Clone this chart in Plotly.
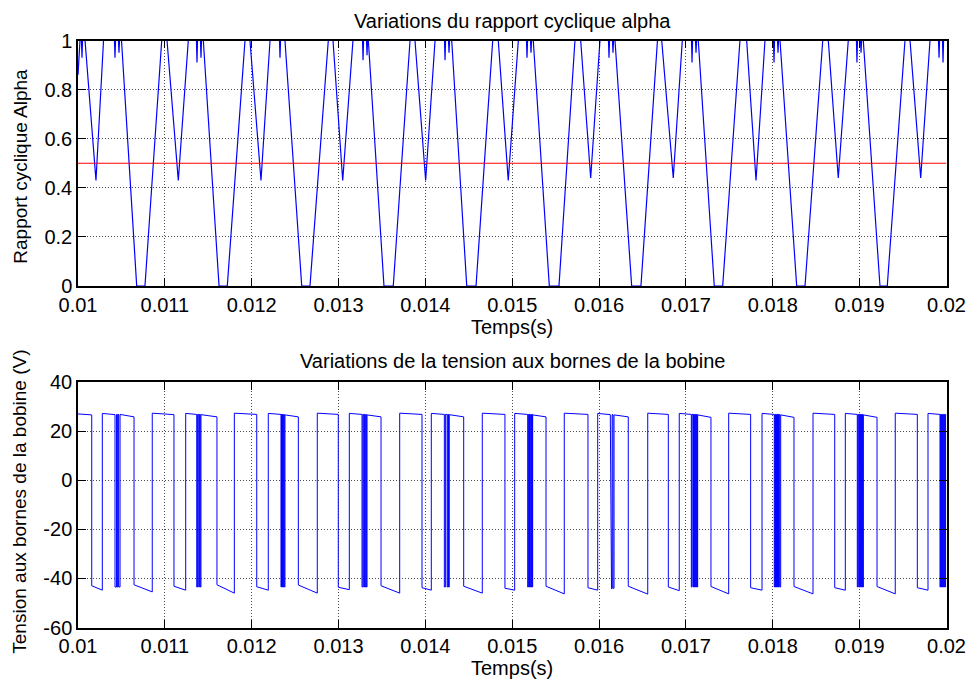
import plotly.graph_objects as go

# ---------------- data (time in ms) ----------------
alpha_t = [
    10.000, 10.023, 10.040, 10.046, 10.052, 10.081, 10.207, 10.294, 10.420, 10.426, 10.432,
    10.466, 10.472, 10.478, 10.501, 10.676, 10.771, 10.964,
    11.025, 11.155, 11.270, 11.364, 11.370, 11.376, 11.410, 11.416, 11.422, 11.443, 11.624, 11.719, 11.923,
    11.980, 12.107, 12.211, 12.320, 12.326, 12.332, 12.383, 12.576, 12.671, 12.882,
    12.936, 13.048, 13.166, 13.276, 13.282, 13.288, 13.322, 13.328, 13.334, 13.343, 13.523, 13.630, 13.823,
    13.880, 14.003, 14.111, 14.220, 14.226, 14.232, 14.266, 14.272, 14.278, 14.303, 14.476, 14.583, 14.775,
    14.839, 14.954, 15.070, 15.164, 15.170, 15.176, 15.210, 15.216, 15.222, 15.242, 15.427, 15.538, 15.722,
    15.788, 15.903, 16.010, 16.108, 16.114, 16.120, 16.154, 16.160, 16.166, 16.183, 16.375, 16.482, 16.672,
    16.721, 16.854, 16.958, 17.064, 17.070, 17.076, 17.110, 17.116, 17.122, 17.142, 17.326, 17.423, 17.622,
    17.699, 17.807, 17.910, 18.008, 18.014, 18.020, 18.054, 18.060, 18.066, 18.083, 18.275, 18.371, 18.575,
    18.639, 18.754, 18.869, 18.963, 18.969, 18.975, 19.010, 19.016, 19.022, 19.042, 19.234, 19.318, 19.522,
    19.580, 19.703, 19.810, 19.908, 19.914, 19.920, 19.954, 19.960, 19.966, 20.000,
]
alpha_v = [
    0.86, 1, 1, 0.93, 1, 1, 0.43, 1, 1, 0.93, 1,
    1, 0.95, 1, 1, 0, 0, 1,
    1, 0.43, 1, 1, 0.91, 1, 1, 0.93, 1, 1, 0, 0, 1,
    1, 0.43, 1, 1, 0.93, 1, 1, 0, 0, 1,
    1, 0.43, 1, 1, 0.92, 1, 1, 0.94, 1, 1, 0, 0, 1,
    1, 0.43, 1, 1, 0.92, 1, 1, 0.95, 1, 1, 0, 0, 1,
    1, 0.43, 1, 1, 0.93, 1, 1, 0.95, 1, 1, 0, 0, 1,
    1, 0.44, 1, 1, 0.93, 1, 1, 0.95, 1, 1, 0, 0, 1,
    1, 0.44, 1, 1, 0.91, 1, 1, 0.95, 1, 1, 0, 0, 1,
    1, 0.43, 1, 1, 0.91, 1, 1, 0.95, 1, 1, 0, 0, 1,
    1, 0.44, 1, 1, 0.91, 1, 1, 0.95, 1, 1, 0, 0, 1,
    1, 0.44, 1, 1, 0.93, 1, 1, 0.91, 1, 1,
]
alpha_ref_t = [10.0, 20.0]
alpha_ref_v = [0.5, 0.5]

# coil voltage: each interval starts at bob_start[i], level goes bob_v0[i] -> bob_v1[i]
bob_start = [
    10.000, 10.158, 10.280, 10.426, 10.444, 10.452, 10.460, 10.468, 10.484, 10.645,
    10.855, 11.105, 11.240, 11.367, 11.377, 11.390, 11.398, 11.408, 11.416, 11.600,
    11.800, 12.058, 12.191, 12.337, 12.343, 12.350, 12.356, 12.362, 12.368, 12.375, 12.383, 12.537,
    12.755, 12.997, 13.124, 13.270, 13.280, 13.290, 13.298, 13.306, 13.314, 13.320, 13.328, 13.489,
    13.704, 13.961, 14.068, 14.218, 14.230, 14.250, 14.258, 14.266, 14.275, 14.441,
    14.655, 14.916, 15.028, 15.178, 15.185, 15.192, 15.199, 15.206, 15.213, 15.220, 15.227, 15.231, 15.235, 15.389,
    15.599, 15.872, 15.984, 16.129, 16.143, 16.150, 16.160, 16.172, 16.336,
    16.560, 16.797, 16.923, 17.062, 17.070, 17.082, 17.088, 17.094, 17.100, 17.106, 17.112, 17.118, 17.124, 17.130, 17.135, 17.288,
    17.492, 17.745, 17.876, 18.017, 18.024, 18.030, 18.036, 18.042, 18.048, 18.054, 18.060, 18.066, 18.072, 18.080, 18.091, 18.244,
    18.463, 18.713, 18.835, 18.973, 18.980, 18.990, 18.996, 19.002, 19.008, 19.014, 19.020, 19.026, 19.034, 19.038, 19.042, 19.200,
    19.410, 19.664, 19.787, 19.925, 19.932, 19.938, 19.944, 19.950, 19.956, 19.962, 19.968, 19.974, 19.980, 19.986, 19.990,
]
bob_v0 = [
    27.0, -43.0, 27.2, -43.5, 26.8, -43.5, 26.8, -43.5, 26.8, -42.6,
    27.3, -43.2, 27.2, -43.5, 26.8, -43.5, 26.8, -43.5, 26.7, -42.6,
    27.3, -43.4, 27.2, -43.5, 26.8, -43.5, 26.8, -43.5, 26.8, -43.5, 26.6, -42.7,
    27.3, -43.6, 27.2, -43.5, 26.8, -43.5, 26.8, -43.5, 26.8, -43.5, 26.6, -43.0,
    27.3, -43.8, 27.2, -43.5, 26.8, -43.5, 26.8, -43.5, 26.7, -43.2,
    27.3, -44.0, 27.2, -43.5, 26.8, -43.5, 26.8, -43.5, 26.8, -43.5, 26.8, -43.5, 26.6, -43.2,
    27.3, -43.8, 27.2, 26.7, -44.2, 26.7, -44.0, 26.6, -43.2,
    27.3, -43.5, 27.2, -43.5, 26.8, -43.5, 26.8, -43.5, 26.8, -43.5, 26.8, -43.5, 26.8, -43.5, 26.6, -43.3,
    27.3, -43.8, 27.2, -43.5, 26.8, -43.5, 26.8, -43.5, 26.8, -43.5, 26.8, -43.5, 26.8, -43.5, 26.6, -43.3,
    27.3, -43.8, 27.2, -43.5, 26.8, -43.5, 26.8, -43.5, 26.8, -43.5, 26.8, -43.5, 26.8, -43.5, 26.6, -43.3,
    27.3, -43.8, 27.2, -43.5, 26.8, -43.5, 26.8, -43.5, 26.8, -43.5, 26.8, -43.5, 26.8, -43.5, 26.6,
]
bob_v1 = [
    26.6, -44.8, 26.7, -43.5, 26.8, -43.5, 26.8, -43.5, 25.8, -45.5,
    26.7, -44.8, 26.8, -43.5, 26.8, -43.5, 26.8, -43.5, 25.8, -46.0,
    26.8, -44.8, 26.8, -43.5, 26.8, -43.5, 26.8, -43.5, 26.8, -43.5, 25.8, -46.0,
    26.8, -44.6, 26.8, -43.5, 26.8, -43.5, 26.8, -43.5, 26.8, -43.5, 25.8, -46.0,
    26.8, -44.8, 26.8, -43.5, 26.8, -43.5, 26.8, -43.5, 25.8, -46.0,
    26.8, -44.8, 26.8, -43.5, 26.8, -43.5, 26.8, -43.5, 26.8, -43.5, 26.8, -43.5, 25.8, -46.3,
    26.8, -44.8, 26.7, -44.2, -44.2, 26.7, -44.0, 25.8, -46.4,
    26.8, -45.0, 26.8, -43.5, 26.8, -43.5, 26.8, -43.5, 26.8, -43.5, 26.8, -43.5, 26.8, -43.5, 25.6, -46.3,
    26.8, -44.8, 26.8, -43.5, 26.8, -43.5, 26.8, -43.5, 26.8, -43.5, 26.8, -43.5, 26.8, -43.5, 25.6, -46.3,
    26.8, -44.8, 26.8, -43.5, 26.8, -43.5, 26.8, -43.5, 26.8, -43.5, 26.8, -43.5, 26.8, -43.5, 25.6, -46.3,
    26.8, -44.8, 26.8, -43.5, 26.8, -43.5, 26.8, -43.5, 26.8, -43.5, 26.8, -43.5, 26.8, -43.5, 26.6,
]
bob_end = 20.0

x_tickvals = [0.010, 0.011, 0.012, 0.013, 0.014, 0.015, 0.016, 0.017, 0.018, 0.019, 0.020]
x_ticktext = ["0.01", "0.011", "0.012", "0.013", "0.014", "0.015", "0.016", "0.017", "0.018", "0.019", "0.02"]
alpha_tickvals = [0, 0.2, 0.4, 0.6, 0.8, 1]
alpha_ticktext = ["0", "0.2", "0.4", "0.6", "0.8", "1"]
bob_tickvals = [-60, -40, -20, 0, 20, 40]
bob_ticktext = ["-60", "-40", "-20", "0", "20", "40"]

title_top = "Variations du rapport cyclique alpha"
title_bottom = "Variations de la tension aux bornes de la bobine"
ylabel_top = "Rapport cyclique Alpha"
ylabel_bottom = "Tension aux bornes de la bobine (V)"
xlabel = "Temps(s)"

# ---------------- build ----------------
ms = 1e-3
bx, by = [], []
for i, t0 in enumerate(bob_start):
    t1 = bob_start[i + 1] if i + 1 < len(bob_start) else bob_end
    bx += [t0 * ms, t1 * ms]
    by += [bob_v0[i], bob_v1[i]]

W, H = 967, 681
FONT = "Liberation Sans, Arial, Helvetica, sans-serif"
FS = 20      # horizontal texts
FSV = 19     # rotated axis labels

fig = go.Figure()
fig.add_trace(go.Scatter(x=[t * ms for t in alpha_t], y=alpha_v, mode="lines",
                         line=dict(color="#0000ff", width=1.2), xaxis="x", yaxis="y"))
fig.add_trace(go.Scatter(x=[t * ms for t in alpha_ref_t], y=alpha_ref_v, mode="lines",
                         line=dict(color="#ff0000", width=1.2), xaxis="x", yaxis="y"))
fig.add_trace(go.Scatter(x=bx, y=by, mode="lines",
                         line=dict(color="#0000ff", width=1.0), xaxis="x2", yaxis="y2"))

xdom = [78 / W, 946.5 / W]
y1dom = [1 - 286 / H, 1 - 40.5 / H]
y2dom = [1 - 627.5 / H, 1 - 382 / H]

common = dict(showline=True, linecolor="black", linewidth=1.5, mirror="allticks",
              ticks="inside", ticklen=8, tickwidth=1, tickcolor="black",
              showgrid=True, gridcolor="rgba(0,0,0,0.7)", griddash="1px,2px", gridwidth=1,
              zeroline=False, automargin=False,
              tickfont=dict(family=FONT, size=FS, color="black"))

fig.update_layout(
    width=W, height=H, margin=dict(l=0, r=0, t=0, b=0, autoexpand=False),
    paper_bgcolor="white", plot_bgcolor="white", showlegend=False,
    font=dict(family=FONT, size=FS, color="black"),
    xaxis=dict(domain=xdom, anchor="y", range=[0.01, 0.02], tickmode="array",
               tickvals=x_tickvals, ticktext=x_ticktext, **common),
    yaxis=dict(domain=y1dom, anchor="x", range=[0, 1], tickmode="array",
               tickvals=alpha_tickvals, ticktext=alpha_ticktext, **common),
    xaxis2=dict(domain=xdom, anchor="y2", range=[0.01, 0.02], tickmode="array",
                tickvals=x_tickvals, ticktext=x_ticktext, **common),
    yaxis2=dict(domain=y2dom, anchor="x2", range=[-60, 40], tickmode="array",
                tickvals=bob_tickvals, ticktext=bob_ticktext, **common),
)

xc = (78 + 946.5) / 2 / W
ann = [
    dict(text=title_top, x=xc, y=1 - 20.5 / H, font=dict(family=FONT, size=FS, color="black")),
    dict(text=xlabel, x=xc, y=1 - 326.5 / H, font=dict(family=FONT, size=FS, color="black")),
    dict(text=title_bottom, x=xc, y=1 - 361 / H, font=dict(family=FONT, size=FS, color="black")),
    dict(text=xlabel, x=xc, y=1 - 668 / H, font=dict(family=FONT, size=FS, color="black")),
    dict(text=ylabel_top, x=19.7 / W, y=1 - 166 / H, textangle=-90,
         font=dict(family=FONT, size=FSV, color="black")),
    dict(text=ylabel_bottom, x=19.7 / W, y=1 - 502 / H, textangle=-90,
         font=dict(family=FONT, size=FSV, color="black")),
]
for a in ann:
    fig.add_annotation(xref="paper", yref="paper", showarrow=False,
                       xanchor="center", yanchor="middle", **a)

fig.write_html("out.html")
